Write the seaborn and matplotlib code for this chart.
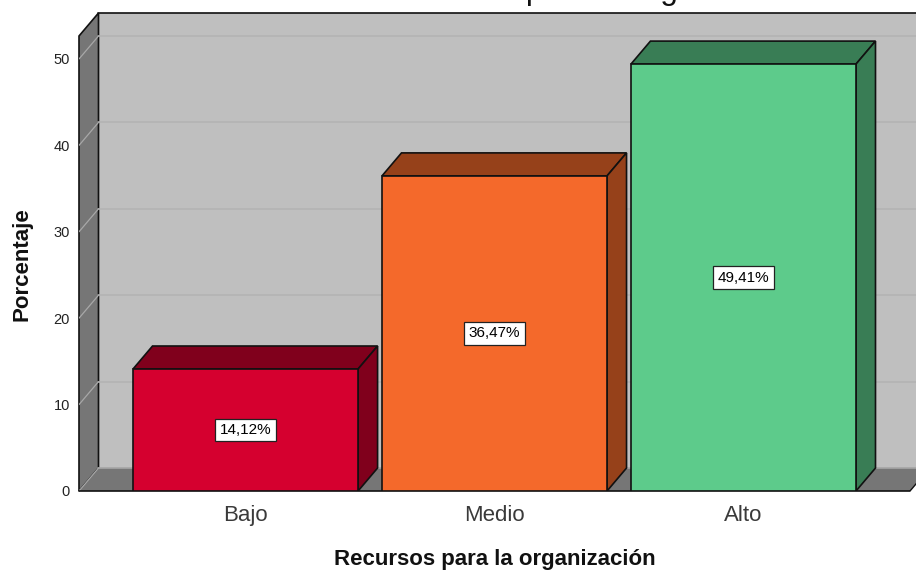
#!/usr/bin/env python3

import matplotlib
matplotlib.use("Agg")
import matplotlib.pyplot as plt
import pandas as pd
import seaborn as sns

# Data
categories = ["Bajo", "Medio", "Alto"]
porcentajes = [14.12, 36.47, 49.41]
value_labels = ["14,12%", "36,47%", "49,41%"]
y_ticks = [0, 10, 20, 30, 40, 50]

front_colors = ["#D5002F", "#F4692B", "#5DCB8B"]
side_colors = ["#80001C", "#96411A", "#397D55"]

wall_color = "#767676"
back_color = "#BFBFBF"
edge_color = "#111111"

df = pd.DataFrame({"nivel": categories, "pct": porcentajes})

sns.set_theme(style="white")
plt.rcParams["font.family"] = ["Liberation Sans", "DejaVu Sans"]

fig = plt.figure(figsize=(9.16, 5.71), dpi=100)
ax = fig.add_axes([79 / 916, 80 / 571, 837 / 916, 478 / 571])

sns.barplot(data=df, x="nivel", y="pct", hue="nivel", palette=front_colors,
            legend=False, width=0.904, edgecolor=edge_color, linewidth=1.2,
            saturation=1, ax=ax, zorder=5)

ax.set_xlim(-0.669, 2.693)
ax.set_ylim(0, 478 / 8.64)

# depth of the fake 3D box, in data units
dx = 19.5 / 249
dy = 23 / 8.64

x_left = ax.get_xlim()[0]
x_right = 2.669
y_top = ax.get_ylim()[1]

# back wall, left wall and floor
ax.fill([x_left + dx, 3.0, 3.0, x_left + dx], [dy, dy, y_top, y_top],
        color=back_color, lw=0, zorder=1)
ax.fill([x_left, x_left + dx, x_left + dx, x_left], [0, dy, y_top, y_top - dy],
        facecolor=wall_color, edgecolor=edge_color, lw=1.2, zorder=2, clip_on=False)
ax.fill([x_left, x_right, x_right + dx, x_left + dx], [0, 0, dy, dy],
        facecolor=wall_color, edgecolor="none", zorder=2)
ax.plot([x_left + dx, 3.0], [dy, dy], color="#A5A5A5", lw=1.2, zorder=2)
ax.plot([x_left, x_right], [0, 0], color=edge_color, lw=1.2, zorder=4, clip_on=False)
ax.plot([x_right, x_right + dx], [0, dy], color=edge_color, lw=1, zorder=4)
ax.plot([x_left + dx, 3.0], [y_top, y_top], color=edge_color, lw=1.2, zorder=4, clip_on=False)

# gridlines run along the wall and then over the back
for t in y_ticks:
    ax.plot([x_left, x_left + dx], [t, t + dy], color="#A8A8A8", lw=0.9, zorder=3)
    if t > 0:
        ax.plot([x_left + dx, 3.0], [t + dy, t + dy], color="#B2B2B2", lw=1.1, zorder=2)

# top and side faces of each bar
for bar, side, label in zip(ax.patches, side_colors, value_labels):
    x0 = bar.get_x()
    x1 = x0 + bar.get_width()
    h = bar.get_height()
    ax.fill([x0, x0 + dx, x1 + dx, x1], [h, h + dy, h + dy, h],
            facecolor=side, edgecolor=edge_color, lw=1.2, zorder=4)
    ax.fill([x1, x1 + dx, x1 + dx, x1], [0, dy, h + dy, h],
            facecolor=side, edgecolor=edge_color, lw=1.2, zorder=4)
    ax.text(x0 + bar.get_width() / 2, h / 2, label, ha="center", va="center",
            fontsize=11, color="black", zorder=6,
            bbox=dict(boxstyle="square,pad=0.28", facecolor="white", edgecolor="#222222", lw=0.9))

for s in ax.spines.values():
    s.set_visible(False)

ax.set_yticks(y_ticks)
ax.tick_params(axis="y", length=0, labelsize=10.5, pad=6.5, labelcolor="#222222")
ax.tick_params(axis="x", length=0, labelsize=16, pad=10, labelcolor="#3A3A3A")
ax.set_xlabel("")
ax.set_ylabel("")

fig.text(495 / 916, 1 - 560 / 571, "Recursos para la organización", ha="center", va="center",
         fontsize=16, fontweight="bold", color="#111111")
fig.text(22 / 916, 1 - 264 / 571, "Porcentaje", ha="center", va="center", rotation=90,
         fontsize=16, fontweight="bold", color="#111111")
# title is cut off by the top of the image in the original
fig.text(383.4 / 916, 1 + 0.5 / 571, "Recursos para la organización", ha="left", va="baseline",
         fontsize=22.9, color="#111111")

plt.savefig("out.png", dpi=100)
plt.close()
